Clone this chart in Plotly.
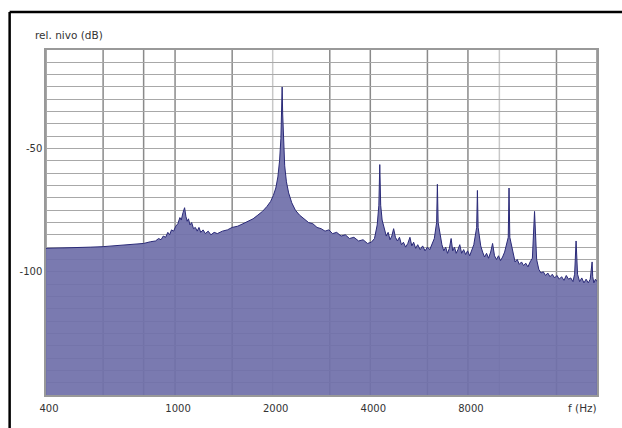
import numpy as np
import plotly.graph_objects as go

# ---- data ----
FREQ_HZ = [400, 450, 500, 550, 600, 650, 700, 750, 800, 840, 870, 890, 905, 920, 935, 950, 962, 975, 990,
           1005, 1020, 1035, 1045, 1058, 1070, 1080, 1090, 1100, 1112, 1125, 1140, 1155, 1170, 1185, 1200,
           1220, 1240, 1265, 1290, 1320, 1350, 1400, 1450, 1500, 1560, 1620, 1680, 1740, 1800, 1860, 1920,
           1970, 2010, 2045, 2075, 2100, 2120, 2132, 2139, 2147, 2158, 2178, 2205, 2240, 2290, 2350, 2420,
           2500, 2580, 2660, 2740, 2820, 2900, 2980, 3060, 3150, 3250, 3350, 3450, 3560, 3680, 3800, 3920,
           4030, 4120, 4200, 4250, 4278, 4306, 4350, 4420, 4480, 4540, 4600, 4660, 4720, 4780, 4850, 4920,
           4990, 5060, 5140, 5220, 5300, 5370, 5440, 5520, 5600, 5700, 5800, 5900, 6000, 6100, 6200, 6300,
           6405, 6440, 6475, 6570, 6650, 6740, 6830, 6920, 7010, 7100, 7180, 7270, 7360, 7450, 7550, 7650,
           7760, 7870, 7980, 8100, 8220, 8340, 8510, 8556, 8600, 8760, 8880, 9000, 9130, 9260, 9400, 9530,
           9660, 9800, 9940, 10080, 10230, 10380, 10650, 10710, 10770, 11020, 11180, 11350, 11520, 11700,
           11880, 12060, 12250, 12440, 12640, 12836, 13030, 13230, 13440, 13660, 13880, 14100, 14330, 14560,
           14800, 15050, 15300, 15560, 15820, 16080, 16340, 16600, 16860, 17060, 17240, 17420, 17680, 17950,
           18230, 18510, 18800, 19060, 19250, 19317, 19400, 19560, 19780, 20000]
LEVEL_DB = [-90.5, -90.4, -90.2, -90.0, -89.8, -89.5, -89.2, -88.8, -88.5, -87.8, -87.5, -86.5, -87.0, -85.5,
            -86.0, -84.0, -85.0, -83.0, -83.5,
            -81.5, -80.5, -78.0, -79.0, -76.0, -74.0, -77.5, -79.5, -78.5, -81.0, -80.0, -82.5, -82.0, -83.5,
            -82.0, -84.0,
            -83.0, -84.5, -83.5, -85.0, -84.0, -84.5, -83.5, -83.0, -82.0, -81.5, -80.5, -79.5, -78.5, -77.0,
            -75.5, -73.5,
            -71.5, -69.0, -66.0, -61.5, -55.0, -46.0, -36.0, -25.0, -36.0, -47.0, -57.0, -63.5, -68.0, -72.0,
            -75.0, -77.0,
            -78.5, -80.0, -80.5, -82.0, -82.5, -83.5, -83.0, -84.5, -84.0, -85.5, -85.0, -86.5, -86.0, -87.5,
            -87.0, -88.5,
            -88.0, -86.5, -81.0, -73.0, -56.5, -73.0, -79.0, -82.0, -85.5, -84.0, -87.0, -85.5, -82.5, -86.0,
            -87.5, -86.0,
            -89.0, -88.0, -90.0, -88.5, -86.0, -89.5, -88.0, -90.5, -89.0, -91.0, -89.5, -91.5, -90.0, -91.0,
            -88.5, -86.5,
            -80.0, -64.5, -80.0, -86.0, -89.0, -91.5, -90.0, -92.5, -90.5, -86.5, -91.5, -90.0, -92.5, -91.0,
            -89.0, -92.5,
            -91.0, -93.0, -91.5, -93.5, -91.0, -89.0, -82.0, -67.0, -82.0, -89.5, -92.0, -94.0, -92.5, -94.5,
            -92.0, -88.5,
            -93.5, -95.0, -93.5, -95.5, -94.0, -92.0, -86.0, -66.0, -86.0, -93.0, -96.0, -95.0, -97.0, -96.0,
            -97.5, -96.5, -98.0, -96.0, -94.5, -75.5, -95.0, -99.0, -100.5, -100.0, -101.5, -100.5, -102.0,
            -101.0,
            -102.5, -101.5, -103.0, -102.0, -103.5, -101.5, -103.0, -102.5, -104.0, -101.0, -87.5, -101.0,
            -104.0, -102.5,
            -104.5, -103.0, -104.5, -103.0, -99.0, -96.0, -102.0, -104.5, -103.0, -104.0]

X_TICKS = [400, 1000, 2000, 4000, 8000]
Y_TICKS = [-50, -100]
GRID_DARK = [400, 600, 800, 1000, 1500, 3000, 4000, 6000, 8000, 15000, 20000]
GRID_LIGHT = [2000, 10000]
X_RANGE = [400, 20000]
Y_RANGE = [-150, -10]
REF_LEVEL = -80

FONT = "DejaVu Sans"

fig = go.Figure()
fig.add_trace(go.Scatter(x=FREQ_HZ, y=[Y_RANGE[0]] * len(FREQ_HZ), mode="lines",
                         line=dict(width=0), showlegend=False, hoverinfo="skip"))
fig.add_trace(go.Scatter(x=FREQ_HZ, y=LEVEL_DB, mode="lines", fill="tonexty",
                         fillcolor="rgba(112,112,170,0.93)",
                         line=dict(color="#2a2a78", width=1), showlegend=False))

shapes = []
for f in GRID_DARK:
    shapes.append(dict(type="line", xref="x", yref="paper", x0=f, x1=f, y0=0, y1=1,
                       line=dict(color="#8a8a8a", width=1.5), layer="below"))
for f in GRID_LIGHT:
    shapes.append(dict(type="line", xref="x", yref="paper", x0=f, x1=f, y0=0, y1=1,
                       line=dict(color="#c8c8c8", width=1.5), layer="below"))
shapes.append(dict(type="line", xref="paper", yref="y", x0=0, x1=1, y0=REF_LEVEL, y1=REF_LEVEL,
                   line=dict(color="#222222", width=1.2), layer="below"))
# outer black frame (top and left)
shapes.append(dict(type="line", xref="paper", yref="paper", x0=-0.066, x1=1.1, y0=1.11, y1=1.11,
                   line=dict(color="black", width=2.5)))
shapes.append(dict(type="line", xref="paper", yref="paper", x0=-0.066, x1=-0.066, y0=1.11, y1=-0.12,
                   line=dict(color="black", width=2.5)))

fig.update_layout(
    width=622, height=428,
    margin=dict(l=46, r=25, t=50, b=33),
    paper_bgcolor="white", plot_bgcolor="white",
    font=dict(family=FONT, size=10, color="#333333"),
    shapes=shapes,
    xaxis=dict(type="log", range=[np.log10(X_RANGE[0]), np.log10(X_RANGE[1])],
               tickmode="array", tickvals=X_TICKS, ticktext=[str(v) for v in X_TICKS],
               showgrid=False, zeroline=False, showline=True, mirror=True,
               linecolor="#999999", linewidth=1.5, ticks="", ticklabelshift=3,
               ticklabelstandoff=3),
    yaxis=dict(range=Y_RANGE, tickmode="array", tickvals=Y_TICKS,
               ticktext=[str(v) for v in Y_TICKS],
               showgrid=True, gridcolor="#a8a8a8", gridwidth=1, zeroline=False,
               showline=True, mirror=True, linecolor="#999999", linewidth=1.5, ticks="",
               minor=dict(dtick=5, showgrid=True, gridcolor="#a8a8a8", gridwidth=1)),
    annotations=[
        dict(text="rel. nivo (dB)", xref="paper", yref="paper", x=-0.024, y=1.043,
             xanchor="left", yanchor="middle", showarrow=False,
             font=dict(family=FONT, size=10.5, color="#333333")),
        dict(text="f (Hz)", xref="paper", yref="paper", x=0.973, y=-0.038,
             xanchor="center", yanchor="middle", showarrow=False,
             font=dict(family=FONT, size=10.5, color="#333333")),
    ],
)

fig.write_html("out.html")
